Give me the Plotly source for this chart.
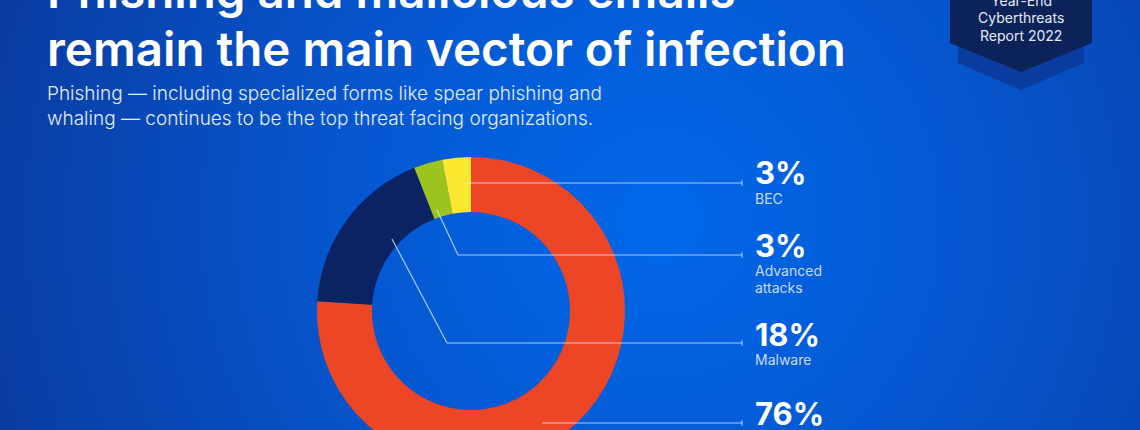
import base64
import plotly.graph_objects as go

# ---------------- data ----------------
categories = ["Phishing", "Malware", "Advanced attacks", "BEC"]
shares = [76, 18, 3, 3]
pct_labels = ["76%", "18%", "3%", "3%"]
name_labels = [["Phishing"], ["Malware"], ["Advanced", "attacks"], ["BEC"]]
slice_colors = ["#EC4626", "#0B2363", "#9DC31F", "#FBE72E"]

title_lines = ["Phishing and malicious emails", "remain the main vector of infection"]
subtitle_lines = ["Phishing \u2014 including specialized forms like spear phishing and",
                  "whaling \u2014 continues to be the top threat facing organizations."]
badge_lines = ["Year-End", "Cyberthreats", "Report 2022"]

# ---------------- geometry helpers ----------------
W, H = 1140, 470


def px(x):
    return x / W


def py(y):
    return 1 - y / H


cx, cy, R = 471, 311, 154

fig = go.Figure(
    go.Pie(
        values=shares,
        labels=categories,
        sort=False,
        direction="clockwise",
        rotation=0,
        hole=0.643,
        marker=dict(colors=slice_colors, line=dict(width=0)),
        textinfo="none",
        hoverinfo="label+percent",
        showlegend=False,
        domain=dict(x=[px(cx - R), px(cx + R)], y=[py(cy + R), py(cy - R)]),
    )
)

# ---------------- background gradient ----------------
svg = (
    f'<svg xmlns="http://www.w3.org/2000/svg" width="{W}" height="{H}" viewBox="0 0 {W} {H}" preserveAspectRatio="none">'
    '<defs><radialGradient id="g" gradientUnits="userSpaceOnUse" cx="660" cy="220" r="720">'
    '<stop offset="0" stop-color="#0068EA"/>'
    '<stop offset="0.45" stop-color="#0656CF"/>'
    '<stop offset="1" stop-color="#0A3A9E"/>'
    '</radialGradient></defs>'
    f'<rect x="0" y="0" width="{W}" height="{H}" fill="url(#g)"/></svg>'
)
src = "data:image/svg+xml;base64," + base64.b64encode(svg.encode()).decode()

shapes = []
annotations = []


def poly(points, color):
    d = "M " + " L ".join(f"{px(x)},{py(y)}" for x, y in points) + " Z"
    return dict(type="path", xref="paper", yref="paper", path=d,
                fillcolor=color, line=dict(width=0), layer="above")


# badge
shapes.append(poly([(958, 0), (1084, 0), (1084, 63), (1021, 90), (958, 63)], "#0A3C9F"))
shapes.append(poly([(950, -5), (1092, -5), (1092, 43), (1021, 72), (950, 43)], "#0B2358"))

for i, t in enumerate(badge_lines):
    annotations.append(dict(text=t, x=px(1021), y=py(1 + 17 * i), xref="paper", yref="paper",
                            xanchor="center", yanchor="middle", showarrow=False,
                            font=dict(family="Inter", size=14, color="#E6EAF7")))

# title
for i, t in enumerate(title_lines):
    annotations.append(dict(text=t, x=px(45), y=py(-9 + 58 * i), xref="paper", yref="paper",
                            xanchor="left", yanchor="middle", showarrow=False,
                            font=dict(family="Inter", size=47.5, color="#FFFFFF", weight=600)))
for i, t in enumerate(subtitle_lines):
    annotations.append(dict(text=t, x=px(45), y=py(94 + 25 * i), xref="paper", yref="paper",
                            xanchor="left", yanchor="middle", showarrow=False,
                            font=dict(family="Inter", size=19, color="#E4ECFF", weight=300)))

# leader lines (order: Phishing, Malware, Advanced, BEC)
line_color = "rgba(215,228,255,0.8)"
leaders = [
    [(542, 423), (742, 423)],
    [(392, 239), (447, 343), (742, 343)],
    [(437, 210), (458, 255), (742, 255)],
    [(463, 183), (742, 183)],
]
for pts in leaders:
    d = "M " + " L ".join(f"{px(x)},{py(y)}" for x, y in pts)
    shapes.append(dict(type="path", xref="paper", yref="paper", path=d,
                       line=dict(color=line_color, width=1.2), layer="above"))
    ex, ey = pts[-1]
    shapes.append(dict(type="line", xref="paper", yref="paper",
                       x0=px(ex), x1=px(ex), y0=py(ey - 2.5), y1=py(ey + 2.5),
                       line=dict(color=line_color, width=1.2), layer="above"))

# labels
pct_centers = [413, 334, 245, 173]
for pct, names, yc in zip(pct_labels, name_labels, pct_centers):
    annotations.append(dict(text=pct, x=px(753), y=py(yc), xref="paper", yref="paper",
                            xanchor="left", yanchor="middle", showarrow=False,
                            font=dict(family="Inter", size=31, color="#FFFFFF", weight=700)))
    for j, n in enumerate(names):
        annotations.append(dict(text=n, x=px(753), y=py(yc + 25 + 17.5 * j), xref="paper", yref="paper",
                                xanchor="left", yanchor="middle", showarrow=False,
                                font=dict(family="Inter", size=14, color="#CBD9FF", weight=400)))

fig.update_layout(
    width=W,
    height=H,
    margin=dict(l=0, r=0, t=0, b=0),
    paper_bgcolor="#0656CF",
    plot_bgcolor="rgba(0,0,0,0)",
    images=[dict(source=src, xref="paper", yref="paper", x=0, y=1, sizex=1, sizey=1,
                 xanchor="left", yanchor="top", sizing="stretch", layer="below")],
    shapes=shapes,
    annotations=annotations,
)

fig.write_html(
    "out.html",
    post_script="document.documentElement.style.overflow='hidden';document.body.style.overflow='hidden';document.body.style.margin='0';",
)
